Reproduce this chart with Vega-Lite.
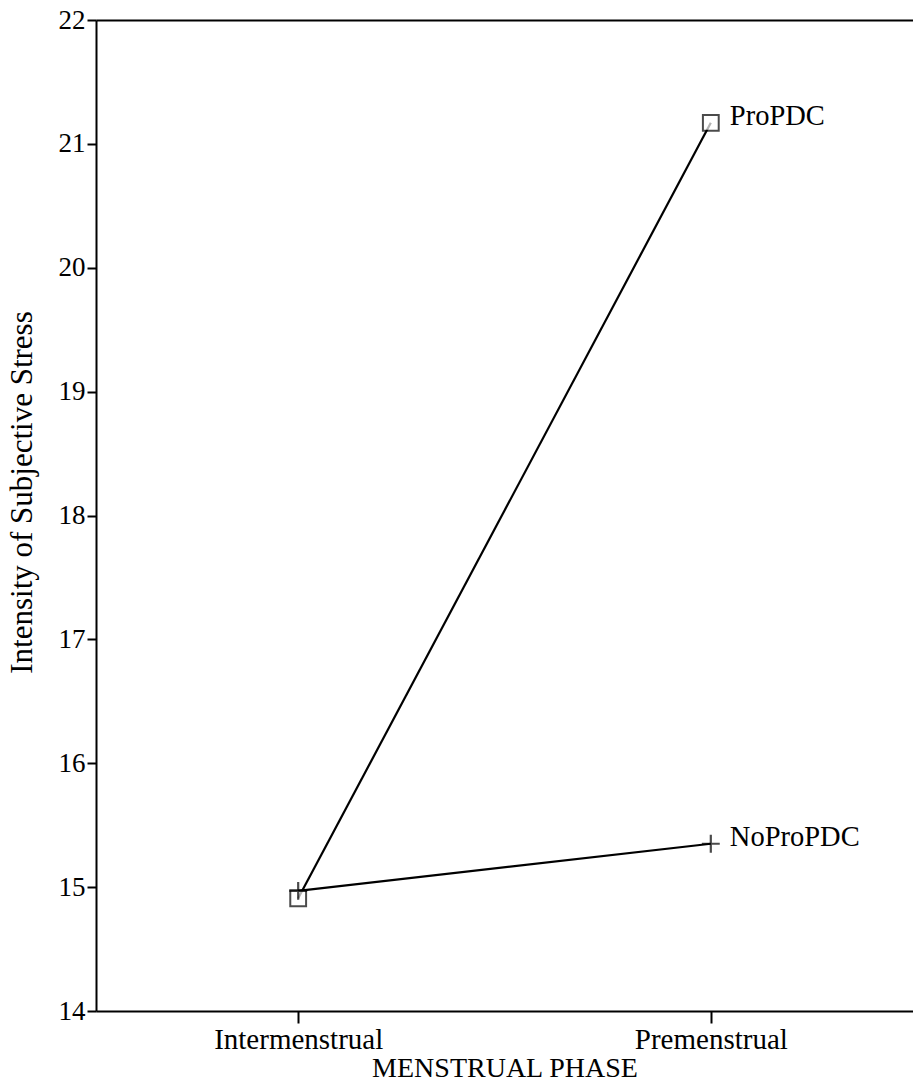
{
  "$schema": "https://vega.github.io/schema/vega-lite/v6.json",
  "width": 817,
  "height": 991,
  "autosize": "none",
  "padding": {"left": 96, "top": 20, "right": 0, "bottom": 75},
  "background": "white",
  "config": {
    "view": {"stroke": null},
    "font": "Liberation Serif",
    "axis": {"domainColor": "black", "tickColor": "black", "labelColor": "black", "titleColor": "black", "grid": false, "labelFont": "Liberation Serif", "titleFont": "Liberation Serif", "titleFontWeight": "normal", "domainWidth": 2, "tickWidth": 2}
  },
  "data": {"values": [
    {"phase": "Intermenstrual", "group": "ProPDC", "stress": 14.91},
    {"phase": "Premenstrual", "group": "ProPDC", "stress": 21.17},
    {"phase": "Intermenstrual", "group": "NoProPDC", "stress": 14.97},
    {"phase": "Premenstrual", "group": "NoProPDC", "stress": 15.35}
  ]},
  "encoding": {
    "y": {"field": "stress", "type": "quantitative",
      "scale": {"domain": [14, 22], "nice": false, "zero": false},
      "axis": {"title": "Intensity of Subjective Stress", "values": [14, 15, 16, 17, 18, 19, 20, 21, 22], "labelFontSize": 27, "titleFontSize": 31, "tickSize": 9, "labelPadding": 2, "titlePadding": 20, "titleY": 472}}
  },
  "layer": [
    {
      "mark": {"type": "line", "color": "black", "strokeWidth": 2.2},
      "encoding": {
        "detail": {"field": "group"},
        "x": {"field": "phase", "type": "ordinal", "sort": ["Intermenstrual", "Premenstrual"],
          "scale": {"type": "point", "padding": 0.49},
          "axis": {"orient": "bottom", "title": "MENSTRUAL PHASE", "labelAngle": 0, "labelFontSize": 29, "titleFontSize": 28, "tickSize": 12, "labelPadding": 2, "titlePadding": 0}}
      }
    },
    {
      "transform": [{"filter": "datum.group === 'ProPDC'"}],
      "mark": {"type": "point", "shape": "square", "size": 250, "filled": true, "fill": "white", "stroke": "black", "strokeWidth": 2},
      "encoding": {
        "x": {"field": "phase", "type": "ordinal", "sort": ["Intermenstrual", "Premenstrual"], "axis": null}
      }
    },
    {
      "transform": [{"filter": "datum.group === 'NoProPDC'"}],
      "mark": {"type": "point", "shape": "M-1,0L1,0M0,-1L0,1", "size": 320, "filled": false, "stroke": "black", "strokeWidth": 2.2},
      "encoding": {
        "x": {"field": "phase", "type": "ordinal", "sort": ["Intermenstrual", "Premenstrual"], "axis": null}
      }
    },
    {
      "transform": [{"filter": "datum.phase === 'Premenstrual'"}],
      "mark": {"type": "text", "align": "left", "baseline": "middle", "dx": 19, "dy": -7, "fontSize": 28.5, "color": "black", "font": "Liberation Serif"},
      "encoding": {
        "text": {"field": "group"},
        "x": {"field": "phase", "type": "ordinal", "sort": ["Intermenstrual", "Premenstrual"],
          "axis": {"orient": "top", "title": null, "labels": false, "ticks": false, "domain": true}}
      }
    }
  ],
  "resolve": {"axis": {"x": "independent"}}
}
